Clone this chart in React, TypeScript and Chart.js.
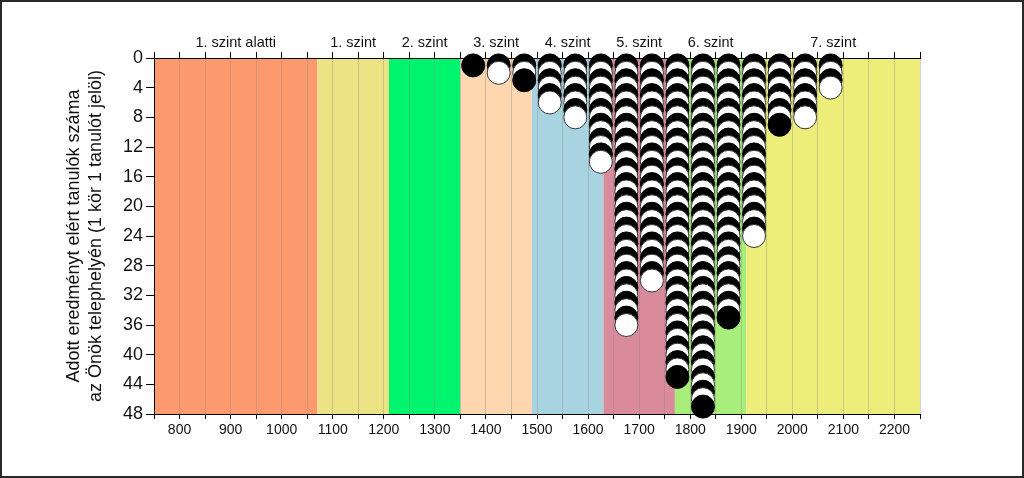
import React, { useEffect, useRef } from "react";
import { Chart, registerables } from "chart.js";

Chart.register(...registerables);

// Score columns (centre of each 50-point bin) and number of students in each
const columnScores = [1375, 1425, 1475, 1525, 1575, 1625, 1675, 1725, 1775, 1825, 1875, 1925, 1975, 2025, 2075];
const columnCounts = [1, 2, 3, 6, 8, 14, 36, 30, 43, 47, 35, 24, 9, 8, 4];

// Proficiency level bands
const levelNames = ["1. szint alatti", "1. szint", "2. szint", "3. szint", "4. szint", "5. szint", "6. szint", "7. szint"];
const levelStarts = [750, 1070, 1210, 1350, 1490, 1630, 1770, 1910];
const levelEnds = [1070, 1210, 1350, 1490, 1630, 1770, 1910, 2250];
const levelColors = ["#FC9A6E", "#EBE384", "#00F46E", "#FED6B0", "#A8D4E2", "#D98A9B", "#A7EE7A", "#EDED7A"];

const xMin = 750;
const xMax = 2250;
const yMax = 48;
const yTitle = ["Adott eredményt elért tanulók száma", "az Önök telephelyén (1 kör 1 tanulót jelöl)"];

const FONT = "'Liberation Sans', Arial, sans-serif";

export default function App() {
  const ref = useRef<HTMLCanvasElement | null>(null);

  useEffect(() => {
    const canvas = ref.current;
    if (!canvas) return;

    const points: { x: number; y: number }[] = [];
    const fills: string[] = [];
    const borders: string[] = [];
    columnScores.forEach((x, i) => {
      for (let k = 1; k <= columnCounts[i]; k++) {
        points.push({ x, y: k });
        const black = k % 2 === 1;
        fills.push(black ? "#000000" : "#FFFFFF");
        borders.push(black ? "#000000" : "#333333");
      }
    });

    const bandsPlugin = {
      id: "bands",
      beforeDraw(chart: any) {
        const { ctx, chartArea, scales } = chart;
        const xs = scales.x;
        ctx.save();
        for (let i = 0; i < levelStarts.length; i++) {
          const x0 = xs.getPixelForValue(levelStarts[i]);
          const x1 = xs.getPixelForValue(levelEnds[i]);
          ctx.fillStyle = levelColors[i];
          ctx.fillRect(x0, chartArea.top, x1 - x0, chartArea.bottom - chartArea.top);
        }
        ctx.fillStyle = "#111111";
        ctx.font = `14.5px ${FONT}`;
        ctx.textAlign = "center";
        ctx.textBaseline = "middle";
        for (let i = 0; i < levelNames.length; i++) {
          const c = xs.getPixelForValue((levelStarts[i] + levelEnds[i]) / 2);
          ctx.fillText(levelNames[i], c, chartArea.top - 15);
        }
        ctx.restore();
      },
    };

    const chart = new Chart(canvas, {
      type: "scatter",
      data: {
        datasets: [
          {
            data: points,
            pointRadius: 11.5,
            pointHoverRadius: 11.5,
            pointBorderWidth: 1,
            pointBackgroundColor: fills,
            pointBorderColor: borders,
            clip: false as any,
          } as any,
        ],
      },
      options: {
        responsive: false,
        animation: false,
        layout: { padding: { left: 0, right: 104, top: 0, bottom: 0 } },
        plugins: { legend: { display: false }, tooltip: { enabled: false } },
        scales: {
          x: {
            type: "linear",
            position: "bottom",
            min: xMin,
            max: xMax,
            afterFit(scale: any) {
              scale.height = 64;
            },
            ticks: {
              stepSize: 50,
              autoSkip: false,
              maxRotation: 0,
              padding: 3,
              color: "#111111",
              font: { family: FONT, size: 14 },
              callback: (v: any) => (Number(v) % 100 === 0 ? String(v) : ""),
            },
            grid: {
              color: "rgba(140,140,140,0.38)",
              tickColor: "#000000",
              tickLength: 5,
              lineWidth: 1,
            },
            border: { color: "#000000", width: 1 },
          },
          xTop: {
            type: "linear",
            position: "top",
            min: xMin,
            max: xMax,
            afterFit(scale: any) {
              scale.height = 58;
            },
            ticks: {
              stepSize: 50,
              autoSkip: false,
              maxRotation: 0,
              callback: () => "",
            },
            grid: {
              drawOnChartArea: false,
              tickColor: "#000000",
              tickLength: 6,
            },
            border: { color: "#000000", width: 1 },
          },
          y: {
            type: "linear",
            reverse: true,
            min: 0,
            max: yMax,
            afterFit(scale: any) {
              scale.width = 154;
            },
            ticks: {
              stepSize: 4,
              padding: 3,
              color: "#111111",
              font: { family: FONT, size: 18 },
            },
            grid: {
              drawOnChartArea: false,
              tickColor: "#000000",
              tickLength: 8,
            },
            border: { color: "#000000", width: 1 },
            title: {
              display: true,
              text: yTitle,
              color: "#111111",
              font: { family: FONT, size: 18, lineHeight: 1.17 },
              padding: { top: 64, bottom: 0 },
            },
          },
        },
      },
      plugins: [bandsPlugin],
    });

    return () => chart.destroy();
  }, []);

  return (
    <div style={{ position: "absolute", left: 0, top: 0, width: 1024, height: 478, background: "#fff" }}>
      <canvas ref={ref} width={1024} height={478} style={{ display: "block", width: 1024, height: 478 }} />
      <div
        style={{
          position: "absolute",
          left: 0,
          top: 0,
          width: 1024,
          height: 478,
          boxSizing: "border-box",
          border: "2px solid #2a2a2a",
          pointerEvents: "none",
        }}
      />
    </div>
  );
}
